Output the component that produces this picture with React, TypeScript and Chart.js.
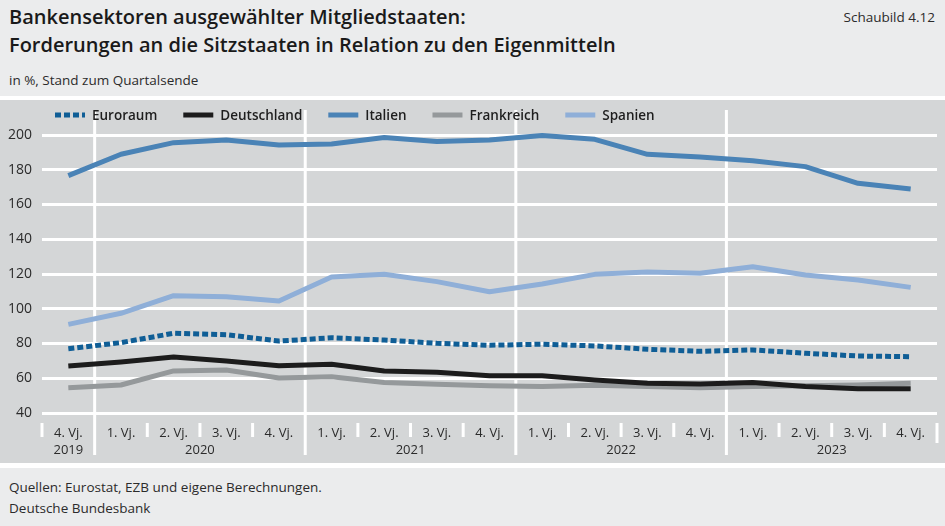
import React, { useEffect, useRef } from "react";
import { Chart, registerables } from "chart.js";

Chart.register(...registerables);

const quarterLabels = ["4. Vj.", "1. Vj.", "2. Vj.", "3. Vj.", "4. Vj.", "1. Vj.", "2. Vj.", "3. Vj.", "4. Vj.", "1. Vj.", "2. Vj.", "3. Vj.", "4. Vj.", "1. Vj.", "2. Vj.", "3. Vj.", "4. Vj."];
const yearOfPoint = ["2019", "2020", "2020", "2020", "2020", "2021", "2021", "2021", "2021", "2022", "2022", "2022", "2022", "2023", "2023", "2023", "2023"];

const euroraum = [77.0, 80.5, 85.9, 85.1, 81.4, 83.3, 82.0, 80.1, 79.0, 79.6, 78.6, 76.7, 75.5, 76.3, 74.4, 72.8, 72.4];
const deutschland = [67.1, 69.4, 72.2, 69.9, 67.2, 68.0, 64.2, 63.4, 61.5, 61.5, 59.0, 57.1, 56.7, 57.5, 55.2, 54.0, 54.0];
const italien = [176.6, 188.9, 195.6, 197.1, 194.2, 194.8, 198.5, 196.2, 197.1, 199.7, 197.5, 188.9, 187.3, 185.2, 181.8, 172.2, 168.9];
const frankreich = [54.6, 56.1, 64.2, 64.8, 60.1, 60.9, 57.5, 56.5, 55.7, 55.2, 56.0, 55.2, 54.6, 55.2, 55.7, 56.1, 57.1];
const spanien = [91.0, 97.4, 107.5, 106.9, 104.5, 118.3, 119.8, 115.6, 109.8, 114.2, 119.8, 121.2, 120.4, 124.2, 119.4, 116.5, 112.3];

const yMin = 40;
const yMax = 200;
const yStep = 20;

const FONT = "'Open Sans', 'Noto Sans', sans-serif";
const TEXT = "#2b2b2b";
const PANEL = "#d4d6d7";
const PAGE = "#ebeced";

const decorPlugin = {
  id: "decor",
  beforeDatasetsDraw(chart: any) {
    const { ctx, chartArea } = chart;
    const xs = chart.scales.x;
    const n = quarterLabels.length;
    const half = (xs.getPixelForValue(1) - xs.getPixelForValue(0)) / 2;
    const legendEnd = (chart as any)._legendEnd || 0;
    ctx.save();
    ctx.strokeStyle = "#ffffff";
    ctx.lineWidth = 3;
    for (let i = 0; i <= n; i++) {
      const x = i < n ? xs.getPixelForValue(i) - half : xs.getPixelForValue(n - 1) + half;
      const isYear = i > 0 && i < n && yearOfPoint[i] !== yearOfPoint[i - 1];
      ctx.beginPath();
      if (isYear) {
        const top = x < legendEnd + 10 ? 27 : 10;
        ctx.moveTo(x, top);
        ctx.lineTo(x, chartArea.bottom + 42);
      } else {
        ctx.moveTo(x, chartArea.bottom + 10);
        ctx.lineTo(x, chartArea.bottom + (i === n ? 30 : 24));
      }
      ctx.stroke();
    }
    ctx.restore();
  },
  afterDraw(chart: any) {
    const { ctx, chartArea } = chart;
    const xs = chart.scales.x;
    ctx.save();
    // year labels
    ctx.font = `13px ${FONT}`;
    ctx.fillStyle = TEXT;
    ctx.textAlign = "center";
    ctx.textBaseline = "middle";
    const groups: Record<string, number[]> = {};
    yearOfPoint.forEach((y, i) => {
      (groups[y] = groups[y] || []).push(xs.getPixelForValue(i));
    });
    Object.keys(groups).forEach((y) => {
      const arr = groups[y];
      const cx = (arr[0] + arr[arr.length - 1]) / 2;
      ctx.fillText(y, cx, chartArea.bottom + 37);
    });
    // legend
    ctx.font = `600 13.5px ${FONT}`;
    ctx.textAlign = "left";
    let x = chartArea.left + 13;
    const cy = 15;
    chart.data.datasets.forEach((ds: any) => {
      ctx.save();
      ctx.strokeStyle = ds.borderColor;
      ctx.lineWidth = 5;
      ctx.lineCap = "butt";
      ctx.setLineDash(ds.borderDash || []);
      ctx.beginPath();
      ctx.moveTo(x, cy);
      ctx.lineTo(x + 30, cy);
      ctx.stroke();
      ctx.restore();
      ctx.fillStyle = "#1e1e1e";
      ctx.fillText(ds.label, x + 37, cy + 1);
      const w = ctx.measureText(ds.label).width;
      x += 37 + w;
      (chart as any)._legendEnd = x;
      x += 26;
    });
    ctx.restore();
  },
};

export default function App() {
  const ref = useRef<HTMLCanvasElement | null>(null);
  useEffect(() => {
    if (!ref.current) return;
    const mk = (label: string, data: number[], color: string, dash?: number[]) => ({
      label,
      data,
      borderColor: color,
      backgroundColor: color,
      borderWidth: 5,
      borderDash: dash,
      pointRadius: 0,
      tension: 0,
      clip: false as const,
      borderJoinStyle: "round" as const,
      borderCapStyle: "butt" as const,
      fill: false,
    });
    const chart = new Chart(ref.current, {
      type: "line",
      data: {
        labels: quarterLabels,
        datasets: [
          mk("Euroraum", euroraum, "#0f5e96", [6, 3]),
          mk("Deutschland", deutschland, "#1c1c1c"),
          mk("Italien", italien, "#4a83b6"),
          mk("Frankreich", frankreich, "#95999b"),
          mk("Spanien", spanien, "#8fafd8"),
        ],
      },
      options: {
        animation: false,
        responsive: false,
        events: [],
        layout: { padding: { left: 8, right: 8, top: 35, bottom: 22 } },
        plugins: {
          legend: { display: false },
          tooltip: { enabled: false },
          title: { display: false },
        },
        scales: {
          x: {
            offset: true,
            grid: { display: false, drawTicks: false },
            border: { display: false },
            ticks: {
              autoSkip: false,
              maxRotation: 0,
              padding: 12,
              color: TEXT,
              font: { family: FONT, size: 13 },
            },
            afterFit: (s: any) => {
              s.height = 28;
            },
          },
          y: {
            min: yMin,
            max: yMax,
            grid: { color: "#ffffff", lineWidth: 3, drawTicks: false },
            border: { display: false },
            ticks: {
              stepSize: yStep,
              padding: 10,
              color: TEXT,
              font: { family: FONT, size: 14 },
            },
            afterFit: (s: any) => {
              s.width = 34;
            },
          },
        },
      },
      plugins: [decorPlugin],
    });
    return () => chart.destroy();
  }, []);

  return (
    <div
      style={{
        position: "absolute",
        left: 0,
        top: 0,
        width: 945,
        height: 526,
        background: PAGE,
        fontFamily: FONT,
        color: TEXT,
        overflow: "hidden",
      }}
    >
      <div style={{ position: "absolute", left: 9, top: 3, fontSize: 20, fontWeight: 600, lineHeight: "28px", color: "#1a1a1a", whiteSpace: "nowrap" }}>
        Bankensektoren ausgewählter Mitgliedstaaten:
        <br />
        Forderungen an die Sitzstaaten in Relation zu den Eigenmitteln
      </div>
      <div style={{ position: "absolute", right: 10, top: 8, fontSize: 13.5, lineHeight: "18px" }}>Schaubild 4.12</div>
      <div style={{ position: "absolute", left: 9, top: 71, fontSize: 13.5, lineHeight: "18px" }}>in %, Stand zum Quartalsende</div>
      <div style={{ position: "absolute", left: 0, top: 96, width: 945, height: 372, background: "#ffffff" }}>
        <canvas
          ref={ref}
          width={945}
          height={363}
          style={{ position: "absolute", left: 0, top: 4, width: 945, height: 363, background: PANEL }}
        />
      </div>
      <div style={{ position: "absolute", left: 9, top: 478, fontSize: 13.5, lineHeight: "18px" }}>Quellen: Eurostat, EZB und eigene Berechnungen.</div>
      <div style={{ position: "absolute", left: 9, top: 499, fontSize: 13.5, lineHeight: "18px" }}>Deutsche Bundesbank</div>
    </div>
  );
}
